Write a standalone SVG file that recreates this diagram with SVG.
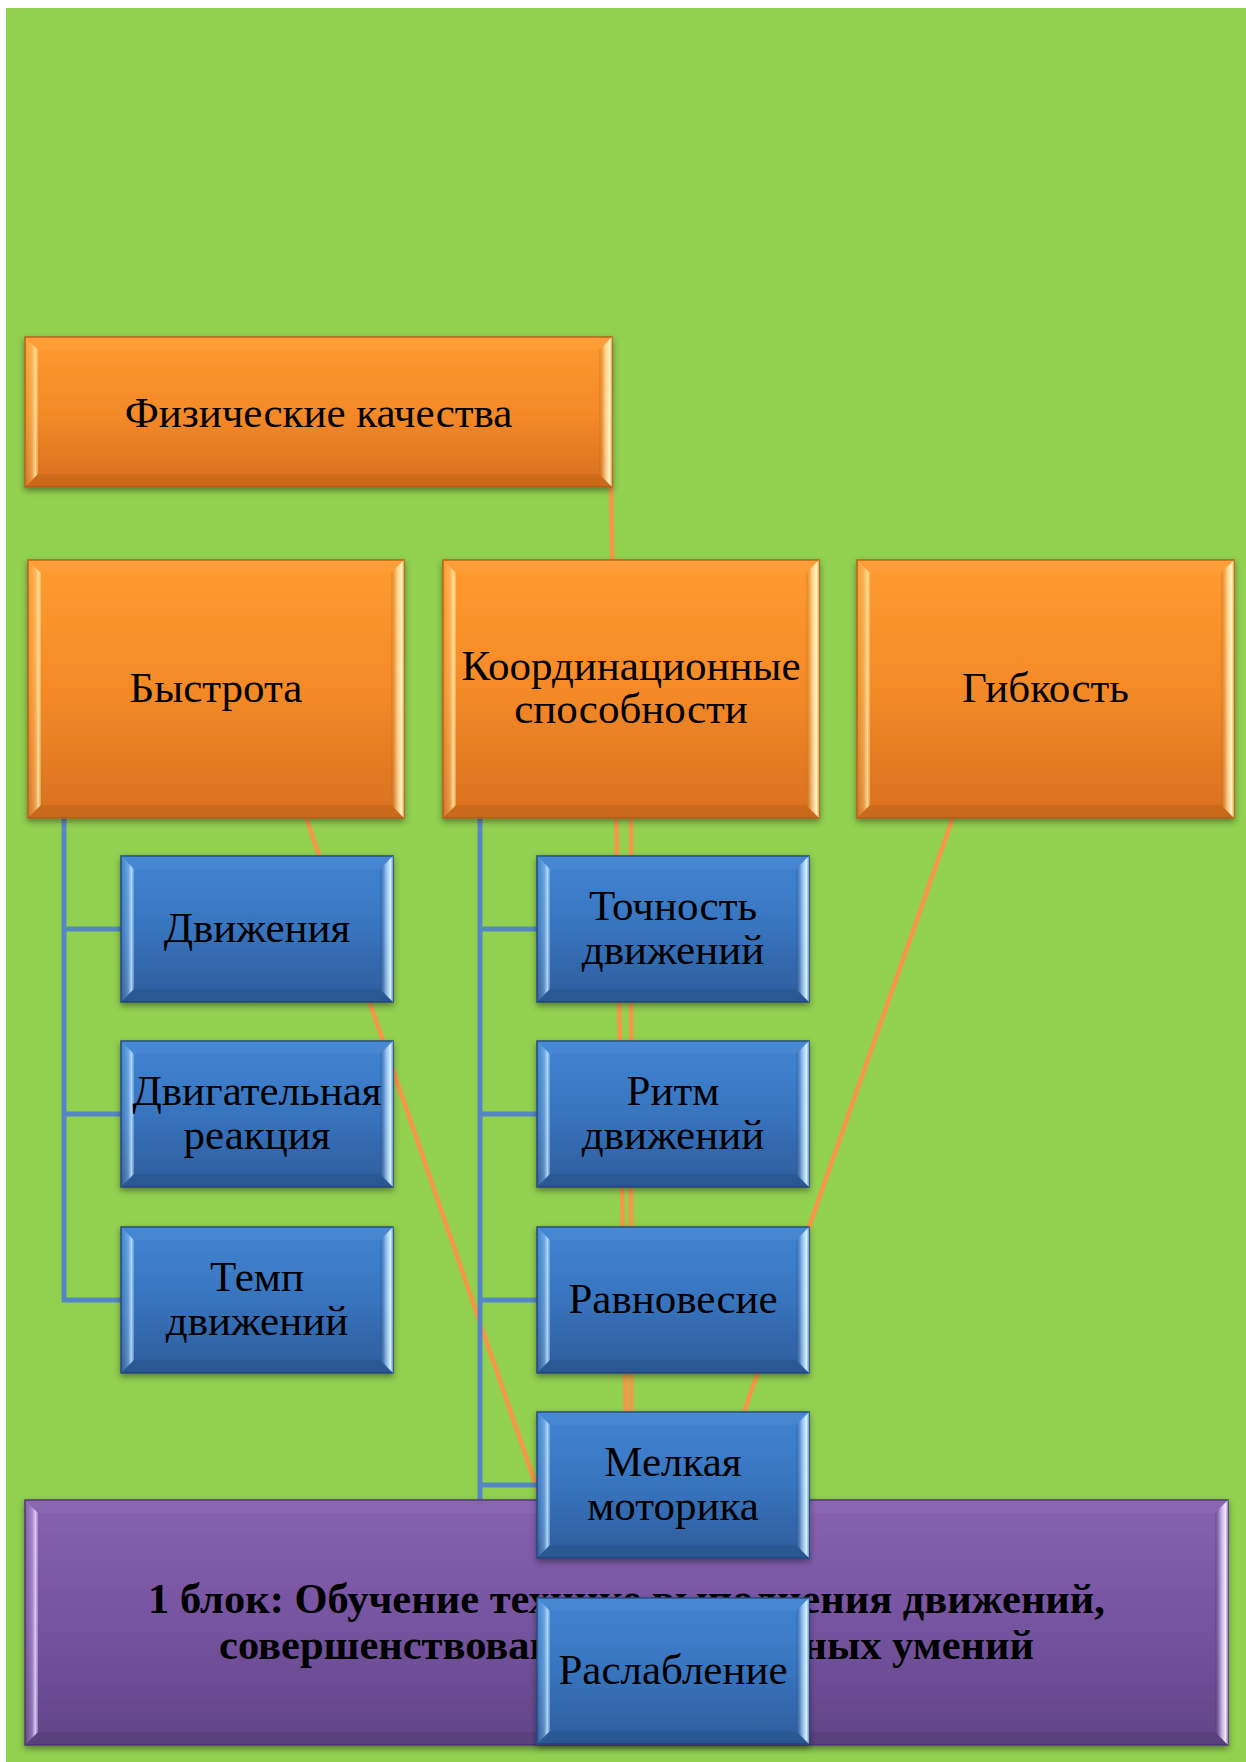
<svg xmlns="http://www.w3.org/2000/svg" width="1246" height="1762" viewBox="0 0 1246 1762">
<defs>
<linearGradient id="gOr" x1="0" y1="0" x2="0" y2="1"><stop offset="0" stop-color="#FF9B30"/><stop offset="0.5" stop-color="#F48A28"/><stop offset="1" stop-color="#D9701E"/></linearGradient>
<linearGradient id="gBl" x1="0" y1="0" x2="0" y2="1"><stop offset="0" stop-color="#4185D3"/><stop offset="0.5" stop-color="#3874BE"/><stop offset="1" stop-color="#2D5C9B"/></linearGradient>
<linearGradient id="gPu" x1="0" y1="0" x2="0" y2="1"><stop offset="0" stop-color="#8761B0"/><stop offset="0.5" stop-color="#7654A0"/><stop offset="1" stop-color="#604587"/></linearGradient>
<linearGradient id="lOr" x1="0" y1="0" x2="1" y2="0"><stop offset="0" stop-color="#FFE7A0" stop-opacity="0"/><stop offset="0.55" stop-color="#FFE7A0" stop-opacity="0.35"/><stop offset="0.8" stop-color="#FFE7A0" stop-opacity="0.9"/><stop offset="1" stop-color="#FFE7A0" stop-opacity="0.3"/></linearGradient>
<linearGradient id="rOr" x1="0" y1="0" x2="1" y2="0"><stop offset="0" stop-color="#B85E14" stop-opacity="0.25"/><stop offset="0.45" stop-color="#FFEFB5" stop-opacity="0.6"/><stop offset="0.8" stop-color="#FFF5C8" stop-opacity="1"/><stop offset="1" stop-color="#FFD27A" stop-opacity="0.6"/></linearGradient>
<linearGradient id="lBl" x1="0" y1="0" x2="1" y2="0"><stop offset="0" stop-color="#B8E0FF" stop-opacity="0"/><stop offset="0.55" stop-color="#B8E0FF" stop-opacity="0.35"/><stop offset="0.8" stop-color="#B8E0FF" stop-opacity="0.9"/><stop offset="1" stop-color="#B8E0FF" stop-opacity="0.3"/></linearGradient>
<linearGradient id="rBl" x1="0" y1="0" x2="1" y2="0"><stop offset="0" stop-color="#1E4478" stop-opacity="0.25"/><stop offset="0.45" stop-color="#BFE3FF" stop-opacity="0.6"/><stop offset="0.8" stop-color="#D8F0FF" stop-opacity="1"/><stop offset="1" stop-color="#9CCBF5" stop-opacity="0.6"/></linearGradient>
<linearGradient id="lPu" x1="0" y1="0" x2="1" y2="0"><stop offset="0" stop-color="#E6D2FF" stop-opacity="0"/><stop offset="0.55" stop-color="#E6D2FF" stop-opacity="0.35"/><stop offset="0.8" stop-color="#E6D2FF" stop-opacity="0.9"/><stop offset="1" stop-color="#E6D2FF" stop-opacity="0.3"/></linearGradient>
<linearGradient id="rPu" x1="0" y1="0" x2="1" y2="0"><stop offset="0" stop-color="#3E2A60" stop-opacity="0.25"/><stop offset="0.45" stop-color="#E9D9FF" stop-opacity="0.6"/><stop offset="0.8" stop-color="#F3EAFF" stop-opacity="1"/><stop offset="1" stop-color="#C9AEF0" stop-opacity="0.6"/></linearGradient>
<filter id="sh" x="-5%" y="-5%" width="110%" height="115%"><feDropShadow dx="0" dy="3" stdDeviation="3" flood-color="#000" flood-opacity="0.4"/></filter>
</defs>
<style>
.t{font-family:"Liberation Serif","Times New Roman",serif;font-size:43px;fill:#000;text-anchor:middle}
.tb{font-family:"Liberation Serif","Times New Roman",serif;font-size:42.5px;font-weight:bold;fill:#000;text-anchor:middle}
.or .f{fill:url(#gOr);stroke:#B5611A;stroke-width:1.5}
.bl .f{fill:url(#gBl);stroke:#24497E;stroke-width:1.5}
.pu .f{fill:url(#gPu);stroke:#4C3870;stroke-width:1.5}
.or .l{fill:url(#lOr)} .or .r{fill:url(#rOr)}
.bl .l{fill:url(#lBl)} .bl .r{fill:url(#rBl)}
.pu .l{fill:url(#lPu)} .pu .r{fill:url(#rPu)}
.tp{fill:#fff;fill-opacity:0.04}
.bt{fill:#000;fill-opacity:0.07}
.box{filter:url(#sh)}
.co{fill:none;stroke:#F79646;stroke-width:4.5}
.cb{fill:none;stroke:#5587C6;stroke-width:5}
</style>
<rect x="0" y="0" width="1246" height="1762" fill="#fff"/>
<rect x="6" y="8" width="1240" height="1754" fill="#92D050"/>

<g id="connectors">
<path class="co" d="M610,420 L627,1500"/>
<path class="co" d="M631,818 L631,1500"/>
<path class="co" d="M300,800 L541,1500"/>
<path class="co" d="M959,800 L713,1500"/>
<path class="cb" d="M64,818 V1300 H121 M64,929 H121 M64,1114 H121"/>
<path class="cb" d="M480,818 V1671 H537 M480,929 H537 M480,1114 H537 M480,1300 H537 M480,1485 H537"/>
</g>

<g id="n-fiz" class="or">
<g class="box"><rect class="f" x="25" y="337" width="587" height="150"/></g>
<polygon class="l" points="25,337 38,350 38,474 25,487"/>
<polygon class="r" points="599,350 612,337 612,487 599,474"/>
<polygon class="tp" points="25,337 612,337 599,350 38,350"/>
<polygon class="bt" points="25,487 38,474 599,474 612,487"/>
<text class="t" x="318.5" y="427">Физические качества</text>
</g>

<g id="n-bystrota" class="or">
<g class="box"><rect class="f" x="28" y="560" width="376" height="258"/></g>
<polygon class="l" points="28,560 41,573 41,805 28,818"/>
<polygon class="r" points="391,573 404,560 404,818 391,805"/>
<polygon class="tp" points="28,560 404,560 391,573 41,573"/>
<polygon class="bt" points="28,818 41,805 391,805 404,818"/>
<text class="t" x="216" y="702">Быстрота</text>
</g>

<g id="n-koord" class="or">
<g class="box"><rect class="f" x="443" y="560" width="376" height="258"/></g>
<polygon class="l" points="443,560 456,573 456,805 443,818"/>
<polygon class="r" points="806,573 819,560 819,818 806,805"/>
<polygon class="tp" points="443,560 819,560 806,573 456,573"/>
<polygon class="bt" points="443,818 456,805 806,805 819,818"/>
<text class="t" x="631" y="680">Координационные</text>
<text class="t" x="631" y="723">способности</text>
</g>

<g id="n-gibkost" class="or">
<g class="box"><rect class="f" x="857" y="560" width="377" height="258"/></g>
<polygon class="l" points="857,560 870,573 870,805 857,818"/>
<polygon class="r" points="1221,573 1234,560 1234,818 1221,805"/>
<polygon class="tp" points="857,560 1234,560 1221,573 870,573"/>
<polygon class="bt" points="857,818 870,805 1221,805 1234,818"/>
<text class="t" x="1045.5" y="702">Гибкость</text>
</g>

<g id="n-block" class="pu">
<g class="box"><rect class="f" x="25" y="1500" width="1203" height="245"/></g>
<polygon class="l" points="25,1500 38,1513 38,1732 25,1745"/>
<polygon class="r" points="1215,1513 1228,1500 1228,1745 1215,1732"/>
<polygon class="tp" points="25,1500 1228,1500 1215,1513 38,1513"/>
<polygon class="bt" points="25,1745 38,1732 1215,1732 1228,1745"/>
<text class="tb" x="626.5" y="1613">1 блок: Обучение технике выполнения движений,</text>
<text class="tb" x="626.5" y="1659">совершенствование двигательных умений</text>
</g>

<g id="n-dvizheniya" class="bl">
<g class="box"><rect class="f" x="121" y="856" width="272" height="146"/></g>
<polygon class="l" points="121,856 134,869 134,989 121,1002"/>
<polygon class="r" points="380,869 393,856 393,1002 380,989"/>
<polygon class="tp" points="121,856 393,856 380,869 134,869"/>
<polygon class="bt" points="121,1002 134,989 380,989 393,1002"/>
<text class="t" x="257" y="942">Движения</text>
</g>

<g id="n-reakciya" class="bl">
<g class="box"><rect class="f" x="121" y="1041" width="272" height="146"/></g>
<polygon class="l" points="121,1041 134,1054 134,1174 121,1187"/>
<polygon class="r" points="380,1054 393,1041 393,1187 380,1174"/>
<polygon class="tp" points="121,1041 393,1041 380,1054 134,1054"/>
<polygon class="bt" points="121,1187 134,1174 380,1174 393,1187"/>
<text class="t" x="257" y="1105">Двигательная</text>
<text class="t" x="257" y="1149">реакция</text>
</g>

<g id="n-temp" class="bl">
<g class="box"><rect class="f" x="121" y="1227" width="272" height="146"/></g>
<polygon class="l" points="121,1227 134,1240 134,1360 121,1373"/>
<polygon class="r" points="380,1240 393,1227 393,1373 380,1360"/>
<polygon class="tp" points="121,1227 393,1227 380,1240 134,1240"/>
<polygon class="bt" points="121,1373 134,1360 380,1360 393,1373"/>
<text class="t" x="257" y="1291">Темп</text>
<text class="t" x="257" y="1335">движений</text>
</g>

<g id="n-tochnost" class="bl">
<g class="box"><rect class="f" x="537" y="856" width="272" height="146"/></g>
<polygon class="l" points="537,856 550,869 550,989 537,1002"/>
<polygon class="r" points="796,869 809,856 809,1002 796,989"/>
<polygon class="tp" points="537,856 809,856 796,869 550,869"/>
<polygon class="bt" points="537,1002 550,989 796,989 809,1002"/>
<text class="t" x="673" y="920">Точность</text>
<text class="t" x="673" y="964">движений</text>
</g>

<g id="n-ritm" class="bl">
<g class="box"><rect class="f" x="537" y="1041" width="272" height="146"/></g>
<polygon class="l" points="537,1041 550,1054 550,1174 537,1187"/>
<polygon class="r" points="796,1054 809,1041 809,1187 796,1174"/>
<polygon class="tp" points="537,1041 809,1041 796,1054 550,1054"/>
<polygon class="bt" points="537,1187 550,1174 796,1174 809,1187"/>
<text class="t" x="673" y="1105">Ритм</text>
<text class="t" x="673" y="1149">движений</text>
</g>

<g id="n-ravnovesie" class="bl">
<g class="box"><rect class="f" x="537" y="1227" width="272" height="146"/></g>
<polygon class="l" points="537,1227 550,1240 550,1360 537,1373"/>
<polygon class="r" points="796,1240 809,1227 809,1373 796,1360"/>
<polygon class="tp" points="537,1227 809,1227 796,1240 550,1240"/>
<polygon class="bt" points="537,1373 550,1360 796,1360 809,1373"/>
<text class="t" x="673" y="1313">Равновесие</text>
</g>

<g id="n-melkaya" class="bl">
<g class="box"><rect class="f" x="537" y="1412" width="272" height="146"/></g>
<polygon class="l" points="537,1412 550,1425 550,1545 537,1558"/>
<polygon class="r" points="796,1425 809,1412 809,1558 796,1545"/>
<polygon class="tp" points="537,1412 809,1412 796,1425 550,1425"/>
<polygon class="bt" points="537,1558 550,1545 796,1545 809,1558"/>
<text class="t" x="673" y="1476">Мелкая</text>
<text class="t" x="673" y="1520">моторика</text>
</g>

<g id="n-rasslablenie" class="bl">
<g class="box"><rect class="f" x="537" y="1598" width="272" height="146"/></g>
<polygon class="l" points="537,1598 550,1611 550,1731 537,1744"/>
<polygon class="r" points="796,1611 809,1598 809,1744 796,1731"/>
<polygon class="tp" points="537,1598 809,1598 796,1611 550,1611"/>
<polygon class="bt" points="537,1744 550,1731 796,1731 809,1744"/>
<text class="t" x="673" y="1684">Раслабление</text>
</g>
</svg>
